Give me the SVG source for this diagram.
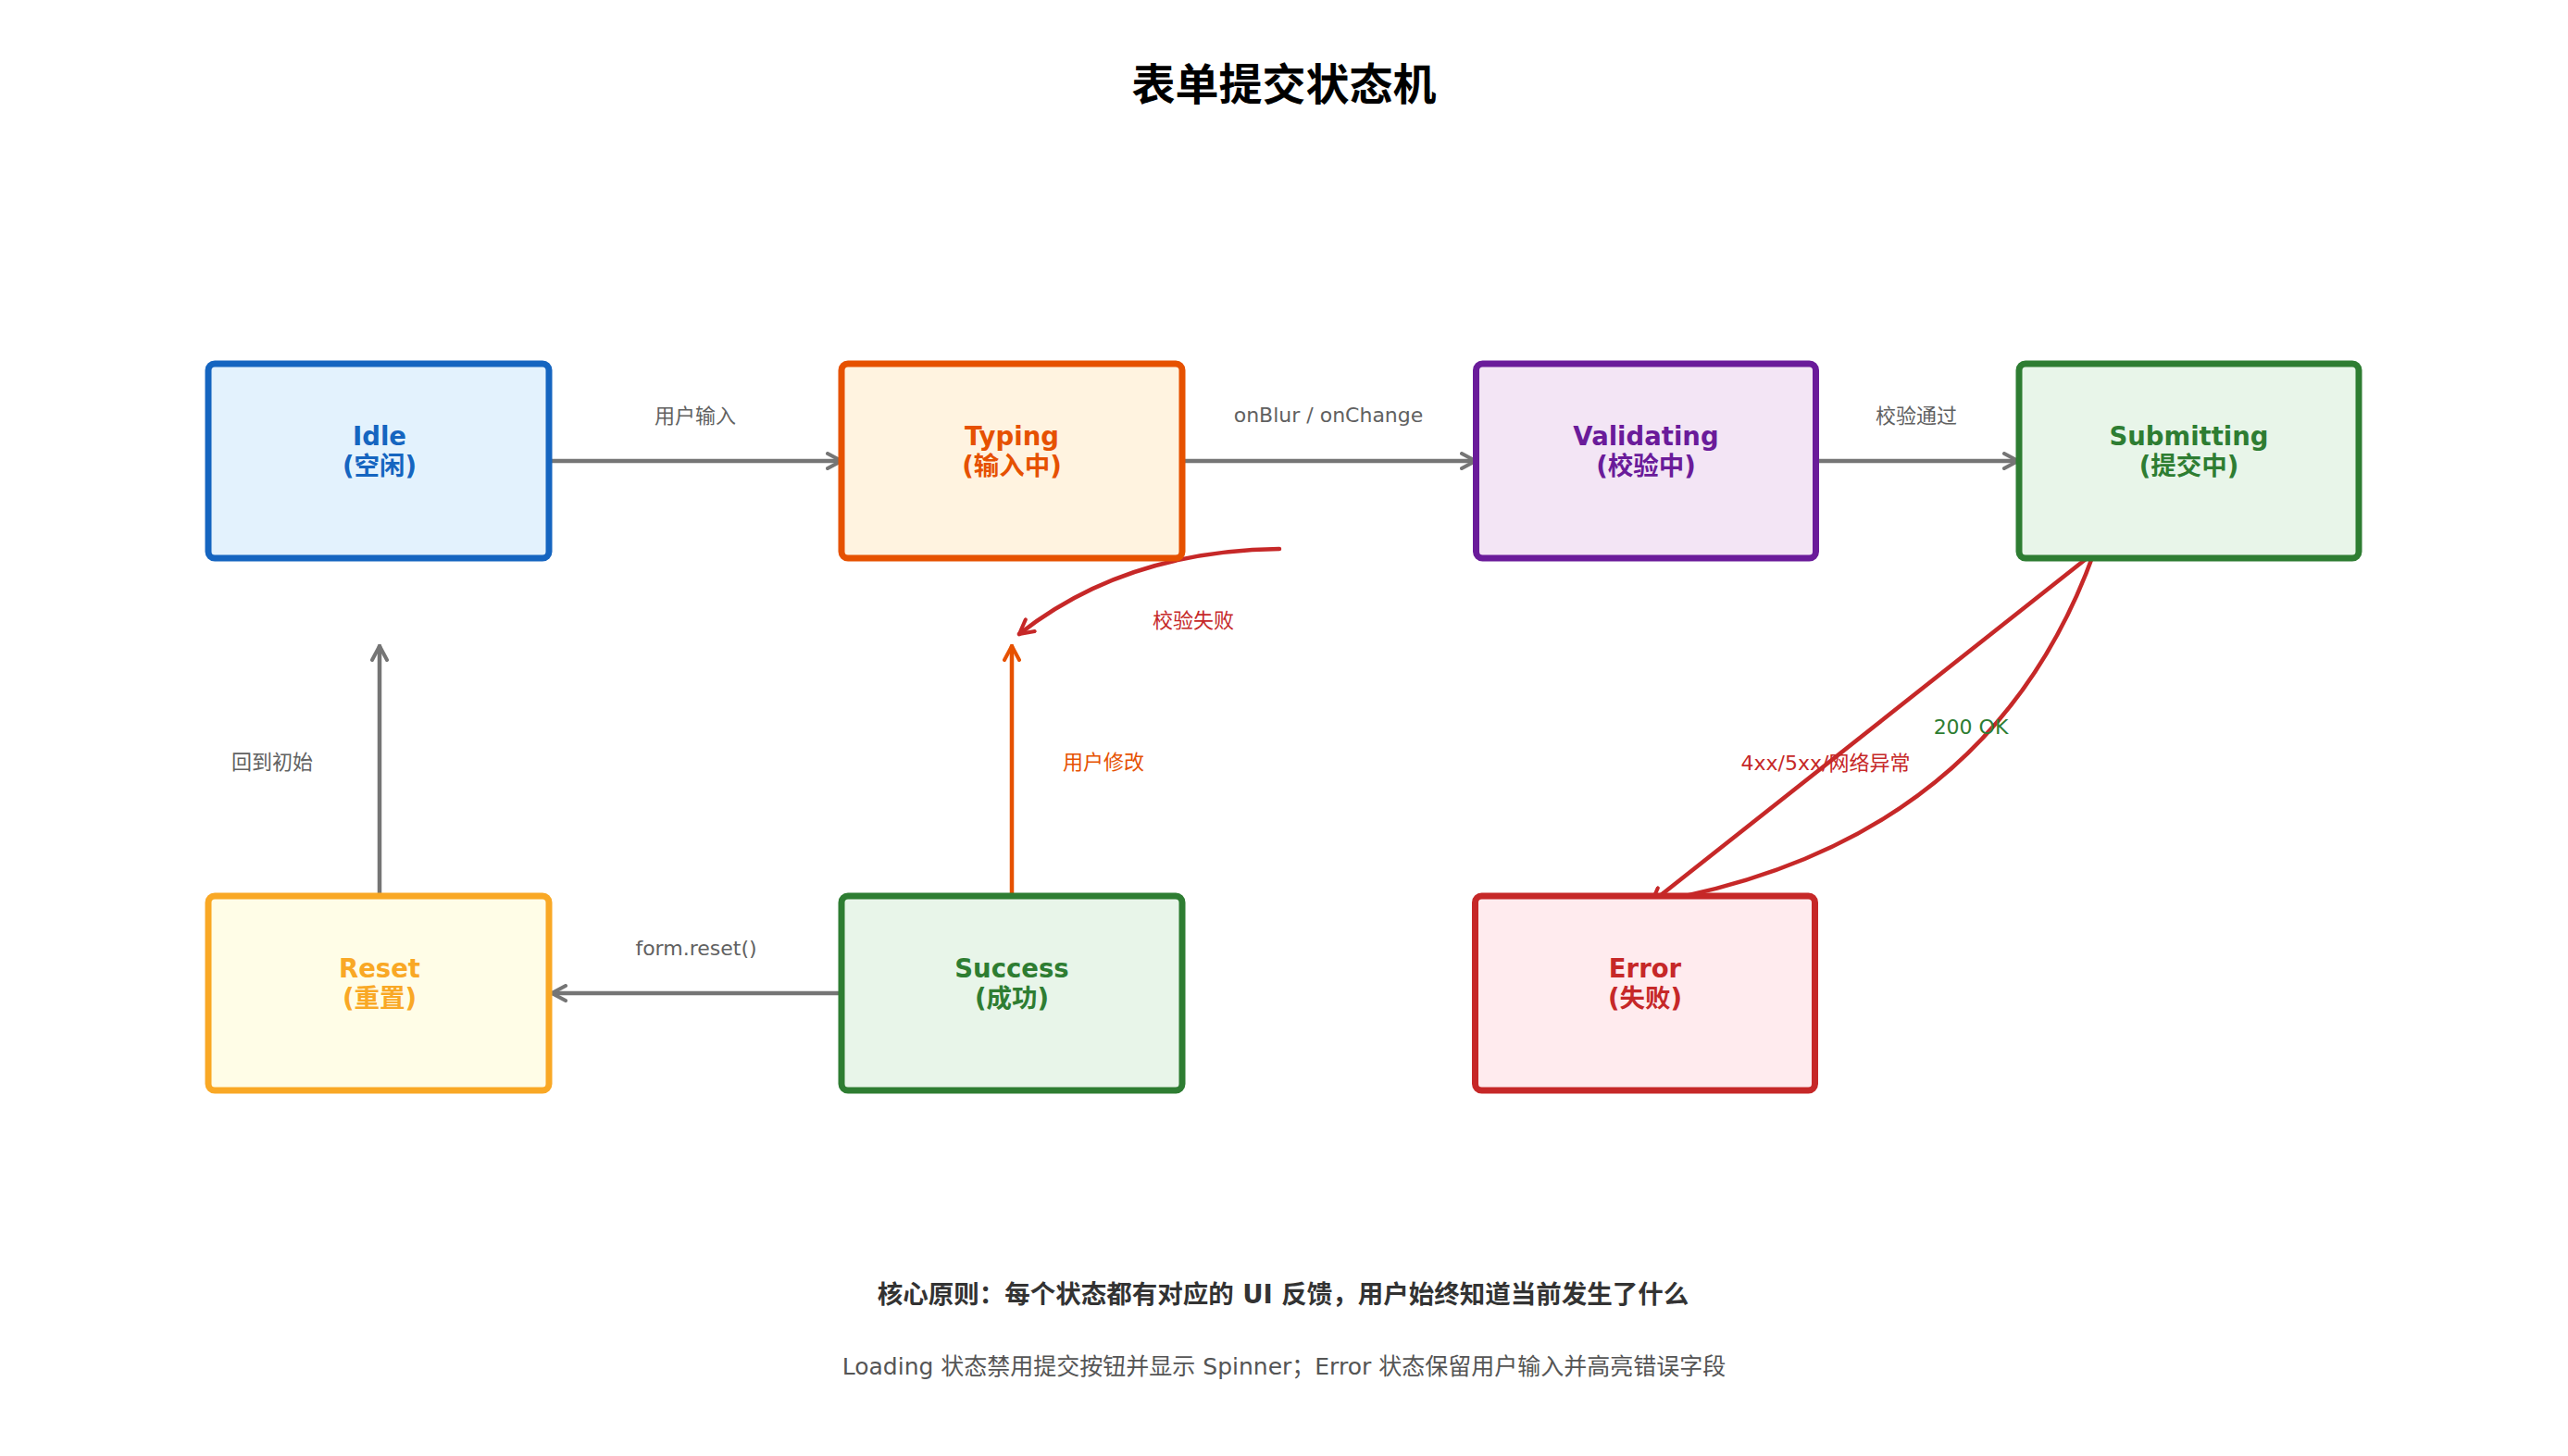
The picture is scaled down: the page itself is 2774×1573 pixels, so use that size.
<svg xmlns="http://www.w3.org/2000/svg" width="2774" height="1573" viewBox="0 0 2774 1573">
  <style>
    text { font-family: "DejaVu Sans", "Noto Sans CJK SC", sans-serif; text-anchor: middle; }
    .title { font-size: 47px; font-weight: bold; fill: #000; }
    .box { stroke-width: 7; }
    .nt { font-size: 27.5px; font-weight: bold; }
    .lbl { font-size: 22px; }
    .conn { fill: none; stroke-width: 4.5; stroke-linecap: round; }
    .gray { stroke: #757575; }
    .orange { stroke: #E65100; }
    .red { stroke: #C62828; }
    .f1 { font-size: 27.5px; font-weight: bold; fill: #333; }
    .f2 { font-size: 25px; fill: #555; }
  </style>
  <defs>
    <marker id="ah-gray" viewBox="0 0 20 20" markerUnits="userSpaceOnUse" markerWidth="20" markerHeight="20" refX="17" refY="10" orient="auto">
      <path d="M2,2 L17,10 L2,18" fill="none" stroke="#757575" stroke-width="4" stroke-linecap="round" stroke-linejoin="round"/>
    </marker>
    <marker id="ah-orange" viewBox="0 0 20 20" markerUnits="userSpaceOnUse" markerWidth="20" markerHeight="20" refX="17" refY="10" orient="auto">
      <path d="M2,2 L17,10 L2,18" fill="none" stroke="#E65100" stroke-width="4" stroke-linecap="round" stroke-linejoin="round"/>
    </marker>
    <marker id="ah-red" viewBox="0 0 20 20" markerUnits="userSpaceOnUse" markerWidth="20" markerHeight="20" refX="17" refY="10" orient="auto">
      <path d="M2,2 L17,10 L2,18" fill="none" stroke="#C62828" stroke-width="4" stroke-linecap="round" stroke-linejoin="round"/>
    </marker>
  </defs>
  <rect width="2774" height="1573" fill="#fff"/>

  <text class="title" x="1387" y="108">表单提交状态机</text>

  <g id="connectors">
    <path class="conn gray" d="M594,498 L909,498" marker-end="url(#ah-gray)"/>
    <path class="conn gray" d="M1277,498 L1594,498" marker-end="url(#ah-gray)"/>
    <path class="conn gray" d="M1961,498 L2180,498" marker-end="url(#ah-gray)"/>
    <path class="conn gray" d="M913,1073 L596,1073" marker-end="url(#ah-gray)"/>
    <path class="conn gray" d="M410,968 L410,698" marker-end="url(#ah-gray)"/>
    <path class="conn orange" d="M1093,968 L1093,698" marker-end="url(#ah-orange)"/>
    <path class="conn red" d="M1382,593 Q1215,595 1101,685" marker-end="url(#ah-red)"/>
    <path class="conn red" d="M2262,597 L1784,975" marker-end="url(#ah-red)"/>
    <path class="conn red" d="M2262,597 Q2149,911 1784,975" marker-end="url(#ah-red)"/>

    <text class="lbl" x="751" y="457" fill="#616161">用户输入</text>
    <text class="lbl" x="1435" y="456" fill="#616161">onBlur / onChange</text>
    <text class="lbl" x="2070" y="457" fill="#616161">校验通过</text>
    <text class="lbl" x="752" y="1032" fill="#616161">form.reset()</text>
    <text class="lbl" x="294" y="831" fill="#616161">回到初始</text>
    <text class="lbl" x="1192" y="831" fill="#E65100">用户修改</text>
    <text class="lbl" x="1289" y="678" fill="#C62828">校验失败</text>
    <text class="lbl" x="2129" y="793" fill="#2E7D32">200 OK</text>
    <text class="lbl" x="1972" y="832" fill="#C62828">4xx/5xx/网络异常</text>
  </g>

  <g id="idle">
    <rect class="box" x="225" y="393" width="368" height="210" rx="7" fill="#E3F2FD" stroke="#1565C0"/>
    <text class="nt" x="410" y="481" fill="#1565C0">Idle</text>
    <text class="nt" x="410" y="513" fill="#1565C0">(空闲)</text>
  </g>
  <g id="typing">
    <rect class="box" x="909" y="393" width="368" height="210" rx="7" fill="#FFF3E0" stroke="#E65100"/>
    <text class="nt" x="1093" y="481" fill="#E65100">Typing</text>
    <text class="nt" x="1093" y="513" fill="#E65100">(输入中)</text>
  </g>
  <g id="validating">
    <rect class="box" x="1594.5" y="393" width="367" height="210" rx="7" fill="#F3E5F5" stroke="#6A1B9A"/>
    <text class="nt" x="1778" y="481" fill="#6A1B9A">Validating</text>
    <text class="nt" x="1778" y="513" fill="#6A1B9A">(校验中)</text>
  </g>
  <g id="submitting">
    <rect class="box" x="2181" y="393" width="367" height="210" rx="7" fill="#E8F5E9" stroke="#2E7D32"/>
    <text class="nt" x="2364.5" y="481" fill="#2E7D32">Submitting</text>
    <text class="nt" x="2364.5" y="513" fill="#2E7D32">(提交中)</text>
  </g>
  <g id="reset">
    <rect class="box" x="225" y="968" width="368" height="210" rx="7" fill="#FFFDE7" stroke="#F9A825"/>
    <text class="nt" x="410" y="1056" fill="#F9A825">Reset</text>
    <text class="nt" x="410" y="1088" fill="#F9A825">(重置)</text>
  </g>
  <g id="success">
    <rect class="box" x="909" y="968" width="368" height="210" rx="7" fill="#E8F5E9" stroke="#2E7D32"/>
    <text class="nt" x="1093" y="1056" fill="#2E7D32">Success</text>
    <text class="nt" x="1093" y="1088" fill="#2E7D32">(成功)</text>
  </g>
  <g id="error">
    <rect class="box" x="1593.5" y="968" width="367" height="210" rx="7" fill="#FFEBEE" stroke="#C62828"/>
    <text class="nt" x="1777" y="1056" fill="#C62828">Error</text>
    <text class="nt" x="1777" y="1088" fill="#C62828">(失败)</text>
  </g>

  <text class="f1" x="1386" y="1408">核心原则：每个状态都有对应的 UI 反馈，用户始终知道当前发生了什么</text>
  <text class="f2" x="1387" y="1485">Loading 状态禁用提交按钮并显示 Spinner；Error 状态保留用户输入并高亮错误字段</text>
</svg>
